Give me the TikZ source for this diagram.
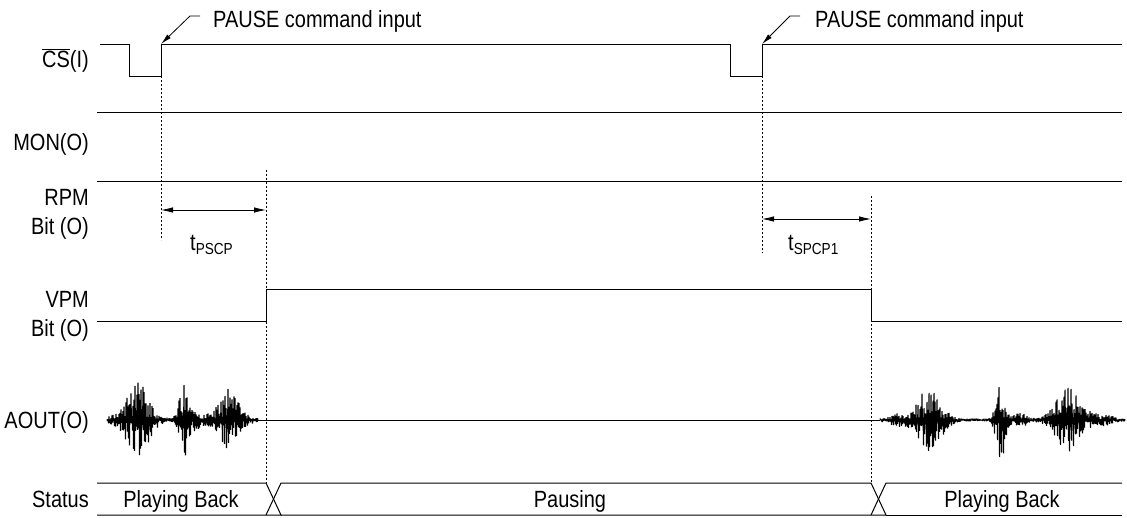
\documentclass[tikz,border=0pt]{standalone}
\usepackage{fontspec}
\setmainfont{Liberation Sans}[FakeStretch=0.85]
\usetikzlibrary{arrows.meta}
\begin{document}
\begin{tikzpicture}[x=1pt,y=1pt,
  sig/.style={line width=1pt,line join=miter},
  guide/.style={line width=0.7pt,dash pattern=on 2pt off 2pt},
  dim/.style={line width=0.8pt,{Latex[length=12pt,width=5.5pt]}-{Latex[length=12pt,width=5.5pt]}},
  callout/.style={line width=0.8pt,-{Latex[length=11pt,width=5pt]}},
  lbl/.style={font=\fontsize{23.5}{26}\selectfont,inner sep=0pt,anchor=base east},
  txt/.style={font=\fontsize{23.5}{26}\selectfont,inner sep=0pt},
  wave/.style={line width=1pt,line join=bevel},
  declare function={
    envL(\x)=1.5+4*exp(-((\x-130)/25)^2)+34*exp(-((\x-138)/14)^2)+40*exp(-((\x-184)/6)^2)+10*exp(-((\x-196)/4)^2)+4*exp(-((\x-205)/6)^2)+31*exp(-((\x-228)/12)^2)+4*exp(-((\x-245)/8)^2);
    envR(\x)=1.5+5*exp(-((\x-898)/12)^2)+33*exp(-((\x-930)/15)^2)+40*exp(-((\x-1001)/6)^2)+6*exp(-((\x-1020)/9)^2)+31*exp(-((\x-1068)/16)^2)+5*exp(-((\x-1100)/14)^2);
  }]
\useasboundingbox (0,0) rectangle (1127,-517);

% ---- labels
\node[lbl] (lcs) at (89,-67) {$\overline{\hbox{CS}}$(I)};
\node[lbl] (lmon) at (89,-150) {MON(O)};
\node[lbl] (lrpm1) at (89,-205) {RPM};
\node[lbl] (lrpm2) at (89,-234) {Bit (O)};
\node[lbl] (lvpm1) at (89,-307) {VPM};
\node[lbl] (lvpm2) at (89,-336) {Bit (O)};
\node[lbl] (laout) at (89,-428) {AOUT(O)};
\node[lbl] (lstat) at (89,-507) {Status};

% ---- key time coordinates
\coordinate (c1) at (161,-44);
\coordinate (c2) at (762,-44);

% ---- CS
\draw[sig] (100,-44) -- (129,-44) -- (129,-76) -- (161,-76) -- (c1) -- (730,-44) -- (730,-76) -- (762,-76) -- (c2) -- (1122,-44);

% ---- MON, RPM
\draw[sig] (97,-112) -- (1122,-112);
\draw[sig] (97,-181) -- (1122,-181);

% ---- VPM
\draw[sig] (97,-321) -- (266,-321) -- (266,-289) -- (871,-289) -- (871,-321) -- (1122,-321);

% ---- AOUT
\pgfmathsetseed{4711}
\draw[wave] plot[variable=\t,domain=0:302,samples=303] ({107+\t/2},{-420+envL(107+\t/2)*(0.08+0.92*rnd)*(1-2*mod(\t,2))});
\draw[sig] (258,-420) -- (880,-420);
\pgfmathsetseed{2024}
\draw[wave] plot[variable=\t,domain=0:490,samples=491] ({880+\t/2},{-420+envR(880+\t/2)*(0.08+0.92*rnd)*(1-2*mod(\t,2))});

% ---- Status
\draw[sig] (97,-483) -- (266,-483) -- (281,-515) -- (97,-515) ;
\draw[sig] (266,-515) -- (281,-483) -- (871,-483) -- (886,-515) -- (281,-515);
\draw[sig] (871,-515) -- (886,-483) -- (1122,-483);
\draw[sig] (886,-515) -- (1122,-515);
\node[txt,anchor=base] (s1) at (181,-507) {Playing Back};
\node[txt,anchor=base] (s2) at (570,-507) {Pausing};
\node[txt,anchor=base] (s3) at (1002,-507) {Playing Back};

% ---- guide lines
\draw[guide] (161,-76) -- (161,-240);
\draw[guide] (266,-170) -- (266,-483);
\draw[guide] (762,-76) -- (762,-253);
\draw[guide] (871,-196) -- (871,-483);

% ---- dimension arrows
\coordinate (d1a) at (161,-210);
\coordinate (d1b) at (266,-210);
\draw[dim] (d1a) -- (d1b);
\node[txt,anchor=base west] (t1) at (190,-250) {t\raisebox{-4pt}{\fontsize{16}{16}\selectfont PSCP}};
\coordinate (d2a) at (762,-219);
\coordinate (d2b) at (871,-219);
\draw[dim] (d2a) -- (d2b);
\node[txt,anchor=base west] (t2) at (788,-250) {t\raisebox{-4pt}{\fontsize{16}{16}\selectfont SPCP1}};

% ---- callouts
\coordinate (k1) at (200,-16);
\coordinate (k2) at (800,-16);
\draw[callout] (k1) -- (190,-16) -- (c1);
\draw[callout] (k2) -- (790,-16) -- (c2);
\node[txt,anchor=base west] (p1) at (213,-27) {PAUSE command input};
\node[txt,anchor=base west] (p2) at (815,-27) {PAUSE command input};
\end{tikzpicture}
\end{document}
